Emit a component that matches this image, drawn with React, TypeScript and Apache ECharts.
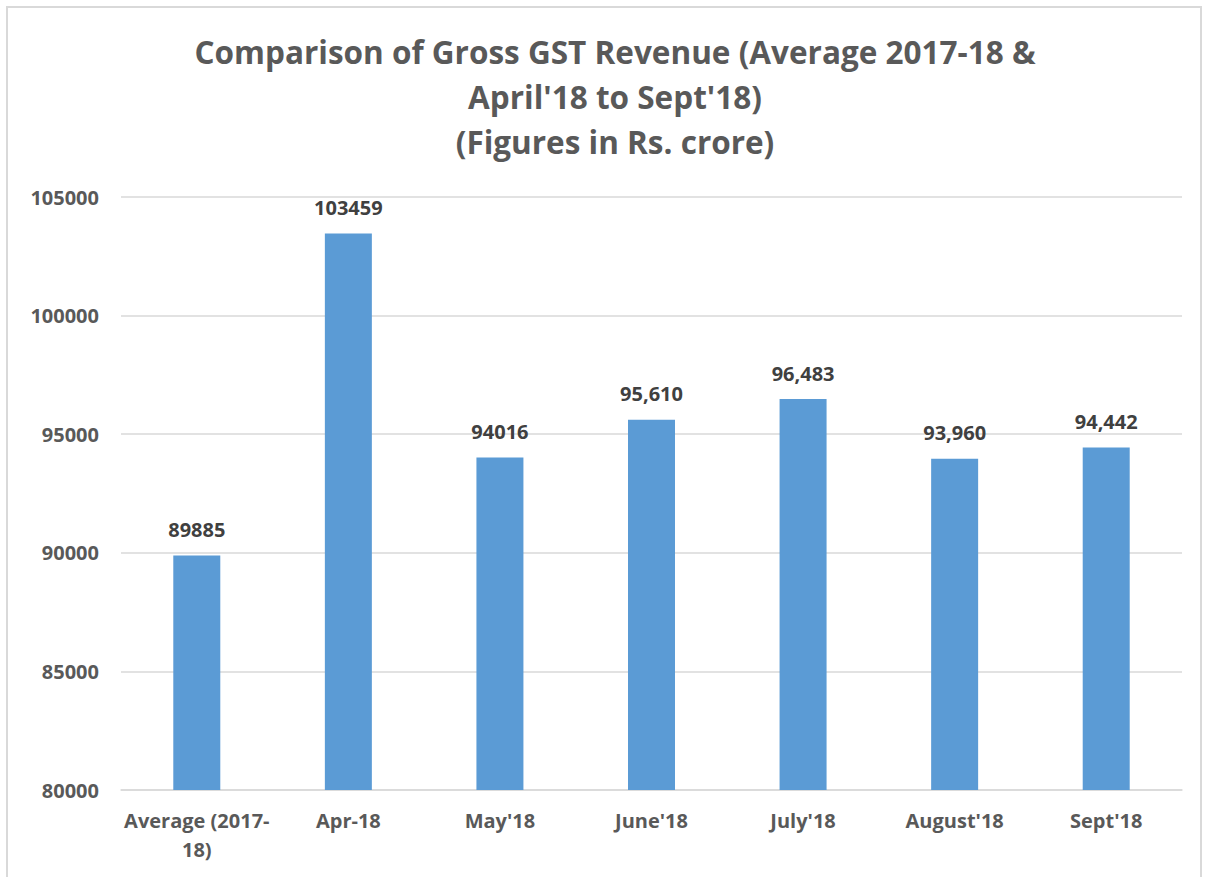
import React, { useEffect, useRef } from "react";
import * as echarts from "echarts";

const categories = ["Average (2017-\n18)", "Apr-18", "May'18", "June'18", "July'18", "August'18", "Sept'18"];
const values = [89885, 103459, 94016, 95610, 96483, 93960, 94442];
const valueLabels = ["89885", "103459", "94016", "95,610", "96,483", "93,960", "94,442"];
const titleText = "Comparison of Gross GST Revenue (Average 2017-18 &\nApril'18 to Sept'18)\n(Figures in Rs. crore)";
const yMin = 80000;
const yMax = 105000;
const yInterval = 5000;

const FONT = "'Open Sans', Lato, sans-serif";

export default function App() {
  const ref = useRef<HTMLDivElement>(null);
  useEffect(() => {
    document.body.style.margin = "0";
    const chart = echarts.init(ref.current!, undefined, { renderer: "svg" });
    chart.setOption({
      animation: false,
      title: {
        text: titleText,
        left: 610,
        textAlign: "center",
        top: 24,
        textStyle: {
          fontFamily: FONT,
          fontSize: 31.5,
          fontWeight: "bold",
          color: "#595959",
          lineHeight: 45,
        },
      },
      grid: { left: 121, right: 29, top: 197, bottom: 87, containLabel: false },
      xAxis: {
        type: "category",
        data: categories,
        axisLine: { lineStyle: { color: "#d9d9d9", width: 1.5 } },
        axisTick: { show: false },
        axisLabel: {
          fontFamily: FONT,
          fontSize: 20,
          fontWeight: "bold",
          color: "#595959",
          margin: 16,
          lineHeight: 29,
          interval: 0,
        },
      },
      yAxis: {
        type: "value",
        min: yMin,
        max: yMax,
        interval: yInterval,
        axisLine: { show: false },
        axisTick: { show: false },
        splitLine: { lineStyle: { color: "#d9d9d9", width: 1.5 } },
        axisLabel: {
          fontFamily: FONT,
          fontSize: 20,
          fontWeight: "bold",
          color: "#595959",
          margin: 22,
          formatter: (v: number) => String(v),
        },
      },
      series: [
        {
          type: "bar",
          data: values,
          barWidth: 47,
          itemStyle: { color: "#5b9bd5" },
          label: {
            show: true,
            position: "top",
            distance: 16,
            fontFamily: FONT,
            fontSize: 20,
            fontWeight: "bold",
            color: "#404040",
            formatter: (p: any) => valueLabels[p.dataIndex],
          },
        },
      ],
    });
    return () => chart.dispose();
  }, []);
  return (
    <div style={{ position: "relative", width: 1211, height: 877, overflow: "hidden", background: "#fff" }}>
      <div
        style={{
          position: "absolute",
          left: 6,
          top: 6,
          width: 1196,
          height: 900,
          border: "2px solid #d9d9d9",
          boxSizing: "border-box",
        }}
      />
      <div ref={ref} style={{ position: "absolute", left: 0, top: 0, width: 1211, height: 877 }} />
    </div>
  );
}
